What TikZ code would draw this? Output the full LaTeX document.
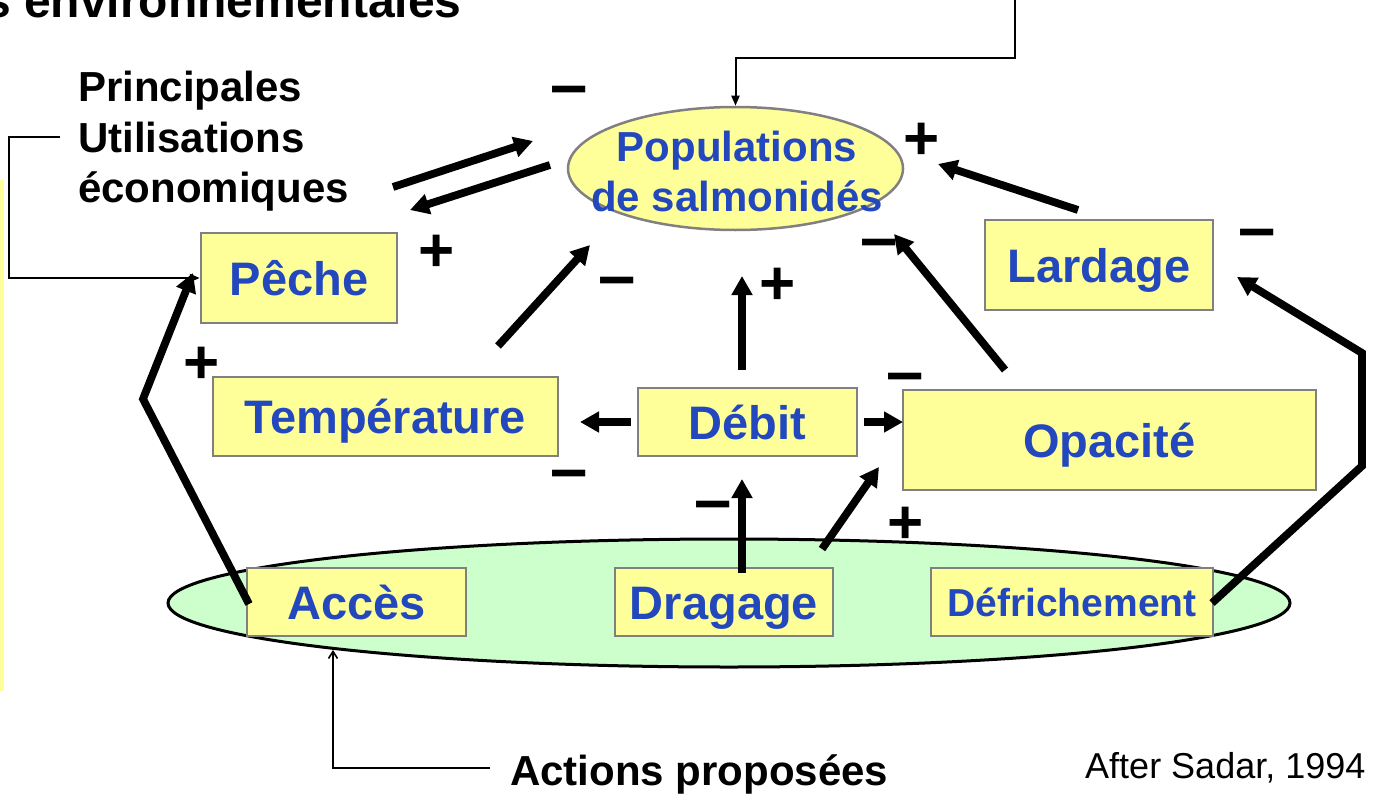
\documentclass[tikz,border=0pt]{standalone}
\usepackage{fontspec}
\setmainfont{Liberation Sans}
\usetikzlibrary{arrows.meta,shapes.geometric}
\definecolor{boxfill}{HTML}{FFFF99}
\definecolor{boxline}{HTML}{808080}
\definecolor{txtblue}{RGB}{35,72,190}
\definecolor{greenfill}{HTML}{CCFFCC}
\begin{document}
\begin{tikzpicture}[x=1pt,y=-1pt,
  box/.style={draw=boxline, line width=2.5pt, fill=boxfill, text=txtblue,
    font=\bfseries\fontsize{47}{50}\selectfont, inner sep=0pt,
    text height=34pt, text depth=0pt, anchor=center},
  blacktxt/.style={font=\bfseries\fontsize{42}{50}\selectfont, inner sep=0pt, anchor=base west},
  bluetxt/.style={font=\bfseries\fontsize{42}{50}\selectfont, text=txtblue, inner sep=0pt, anchor=base},
  signtxt/.style={font=\bfseries\fontsize{62}{62}\selectfont, inner sep=0pt, anchor=base},
  minustxt/.style={font=\bfseries\fontsize{67}{67}\selectfont, inner sep=0pt, anchor=base},
  thickarrow/.style={line width=7.8pt, -{Triangle[length=19pt,width=20pt]}},
  thinarrow/.style={line width=2pt, -{Triangle[length=10pt,width=8pt]}},
  barbarrow/.style={line width=1.6pt, -{Straight Barb[length=7pt,width=9pt]}}
]
\useasboundingbox (0,0) rectangle (1380,797);
\fill[white] (0,0) rectangle (1380,797);
% left yellow strip (cut-off box)
\fill[boxfill] (0,180) rectangle (4,691);

% title (cut off at the edge, as in the reference)
\node[font=\bfseries\fontsize{48}{50}\selectfont, inner sep=0pt, anchor=base west] (title) at (-16,18) {s environnementales};

% green ellipse
\node[draw=black, line width=3pt, fill=greenfill, ellipse, minimum width=1122pt, minimum height=128pt, inner sep=0pt] (grp) at (729,603) {};

% populations ellipse
\node[draw=boxline, line width=2.5pt, fill=boxfill, ellipse, minimum width=335pt, minimum height=123pt, inner sep=0pt] (pop) at (735.5,168.5) {};
\node[bluetxt] (poptxta) at (737,161) {Populations};
\node[bluetxt] (poptxtb) at (737,211) {de salmonidés};

% boxes
\node[box, minimum width=196pt, minimum height=90pt] (peche) at (299,278) {Pêche};
\node[box, minimum width=345pt, minimum height=79pt] (temp) at (385.5,416.5) {Température};
\node[box, minimum width=219pt, minimum height=68pt] (debit) at (747.5,422) {Débit};
\node[box, minimum width=413pt, minimum height=100pt] (opac) at (1109.5,440) {Opacité};
\node[box, minimum width=228pt, minimum height=90pt] (lard) at (1099,265) {Lardage};
\node[box, minimum width=219pt, minimum height=68pt] (acces) at (356.5,602) {Accès};
\node[box, minimum width=218pt, minimum height=68pt] (drag) at (724,602) {Dragage};
\node[box, minimum width=282pt, minimum height=68pt, font=\bfseries\fontsize{39}{44}\selectfont, text height=28pt] (defr) at (1072,602) {Défrichement};

% black labels
\node[blacktxt] (prin) at (78,102) {Principales};
\node[blacktxt] (util) at (78,152) {Utilisations};
\node[blacktxt] (econ) at (78,202) {économiques};
\node[blacktxt] (actions) at (510,785) {Actions proposées};
\node[font=\fontsize{36}{40}\selectfont, inner sep=0pt, anchor=base west] (after) at (1085,778) {After Sadar, 1994};

% thin connectors
\coordinate (topstart) at (1015,0);
\draw[thinarrow] (topstart) -- (1015,58) -| (pop.north);
\coordinate (bkstart) at (60,137);
\draw[line width=2.2pt, -{Triangle[length=10pt,width=8pt]}] (bkstart) -- (9,137) |- (peche.west);
\coordinate (actstart) at (490,768);
\coordinate (actend) at (333,650);
\draw[barbarrow] (actstart) -| (actend);

% thick arrows
\coordinate (a1s) at (393,187); \coordinate (a1e) at (533,141);
\draw[thickarrow] (a1s) -- (a1e);
\coordinate (a2s) at (550,165); \coordinate (a2e) at (410,210);
\draw[thickarrow] (a2s) -- (a2e);
\coordinate (a3s) at (498,346); \coordinate (a3e) at (590,245);
\draw[thickarrow] (a3s) -- (a3e);
\coordinate (a4s) at (742,370); \coordinate (a4e) at (742,276);
\draw[thickarrow] (a4s) -- (a4e);
\coordinate (a5s) at (1005,370); \coordinate (a5e) at (894,234);
\draw[thickarrow] (a5s) -- (a5e);
\coordinate (a6s) at (1078,210); \coordinate (a6e) at (938,164);
\draw[thickarrow] (a6s) -- (a6e);
\coordinate (a7s) at (1212,603); \coordinate (a7e) at (1237,277);
\draw[thickarrow] (a7s) -- (1362,466) -- (1362,353) -- (a7e);
\coordinate (a8s) at (249,604); \coordinate (a8e) at (193,273);
\draw[thickarrow] (a8s) -- (143,399) -- (a8e);
\coordinate (a9s) at (631,422); \coordinate (a9e) at (580,422);
\draw[thickarrow] (a9s) -- (a9e);
\coordinate (a10s) at (864,422); \coordinate (a10e) at (903,422);
\draw[thickarrow] (a10s) -- (a10e);
\coordinate (a11s) at (742,573); \coordinate (a11e) at (742,479);
\draw[thickarrow] (a11s) -- (a11e);
\coordinate (a12s) at (822,549); \coordinate (a12e) at (879,467);
\draw[thickarrow] (a12s) -- (a12e);

% signs
\node[minustxt] (s1) at (569.5,107) {–};
\node[signtxt] (s2) at (436.5,271) {+};
\node[minustxt] (s3) at (617,298) {–};
\node[signtxt] (s4) at (778,304) {+};
\node[signtxt] (s5) at (921.5,159) {+};
\node[minustxt] (s6) at (1257,250) {–};
\node[minustxt] (s7) at (879,260) {–};
\node[signtxt] (s8) at (201.5,383) {+};
\node[minustxt] (s9) at (905,394) {–};
\node[minustxt] (s10) at (569,491) {–};
\node[minustxt] (s11) at (713,522) {–};
\node[signtxt] (s12) at (905.5,543) {+};
\end{tikzpicture}
\end{document}
